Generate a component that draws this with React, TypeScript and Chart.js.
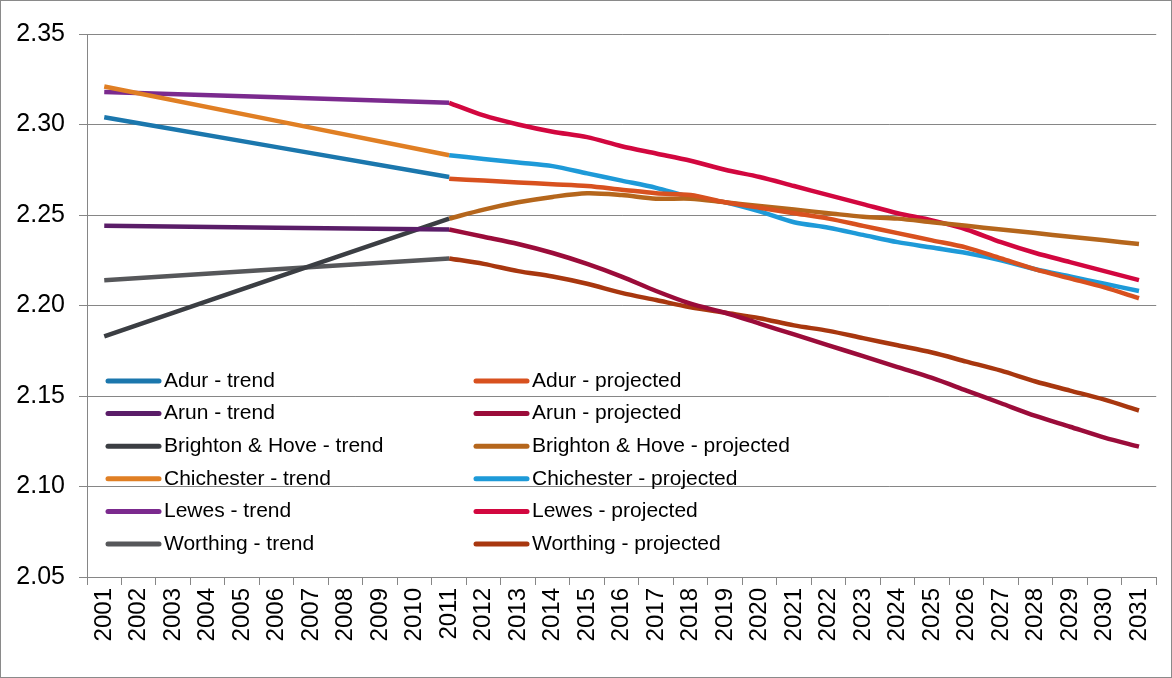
import React, { useRef, useEffect } from "react";
import Chart from "chart.js/auto";

const years = Array.from({ length: 31 }, (_, i) => String(2001 + i));

// trend series: known end points only (2001, 2011), straight line between
const adurTrend = [2.304, 2.271];
const arunTrend = [2.244, 2.242];
const brightonTrend = [2.183, 2.248];
const chichesterTrend = [2.321, 2.283];
const lewesTrend = [2.318, 2.312];
const worthingTrend = [2.214, 2.226];

// projected series 2011..2031
const adurProj = [2.270, 2.269, 2.268, 2.267, 2.266, 2.264, 2.262, 2.261, 2.257, 2.254, 2.251, 2.248, 2.244, 2.240, 2.236, 2.232, 2.226, 2.220, 2.215, 2.210, 2.204];
const arunProj = [2.242, 2.238, 2.234, 2.229, 2.223, 2.216, 2.208, 2.201, 2.196, 2.190, 2.184, 2.178, 2.172, 2.166, 2.160, 2.153, 2.146, 2.139, 2.133, 2.127, 2.122];
const brightonProj = [2.248, 2.253, 2.257, 2.260, 2.262, 2.261, 2.259, 2.259, 2.257, 2.255, 2.253, 2.251, 2.249, 2.248, 2.246, 2.244, 2.242, 2.240, 2.238, 2.236, 2.234];
const chichesterProj = [2.283, 2.281, 2.279, 2.277, 2.273, 2.269, 2.265, 2.260, 2.257, 2.252, 2.246, 2.243, 2.239, 2.235, 2.232, 2.229, 2.225, 2.220, 2.216, 2.212, 2.208];
const lewesProj = [2.312, 2.305, 2.300, 2.296, 2.293, 2.288, 2.284, 2.280, 2.275, 2.271, 2.266, 2.261, 2.256, 2.251, 2.247, 2.242, 2.235, 2.229, 2.224, 2.219, 2.214];
const worthingProj = [2.226, 2.223, 2.219, 2.216, 2.212, 2.207, 2.203, 2.199, 2.196, 2.193, 2.189, 2.186, 2.182, 2.178, 2.174, 2.169, 2.164, 2.158, 2.153, 2.148, 2.142];

const trend = (v: number[]) => {
  const out: (number | null)[] = Array(31).fill(null);
  out[0] = v[0];
  out[10] = v[1];
  return out;
};
const proj = (v: number[]) => [...Array(10).fill(null), ...v];

const FONT = "'Liberation Sans', Arial, sans-serif";

const legendPlugin = {
  id: "insideLegend",
  afterDraw(chart: any) {
    const ctx = chart.ctx;
    const ds = chart.data.datasets;
    ctx.save();
    ctx.font = `21px ${FONT}`;
    ctx.textBaseline = "middle";
    ds.forEach((d: any, i: number) => {
      const col = i % 2;
      const row = Math.floor(i / 2);
      const x = col === 0 ? 107 : 475;
      const y = 380 + row * 32.6;
      ctx.strokeStyle = d.borderColor;
      ctx.lineWidth = 5;
      ctx.lineCap = "round";
      ctx.beginPath();
      ctx.moveTo(x, y);
      ctx.lineTo(x + 51, y);
      ctx.stroke();
      ctx.fillStyle = "#000";
      ctx.fillText(d.label, x + 56, y);
    });
    ctx.restore();
  },
};

const App = () => {
  const chartRef = useRef<HTMLCanvasElement>(null);
  const chartInstance = useRef<Chart | null>(null);

  useEffect(() => {
    document.body.style.margin = "0";
    if (chartRef.current) {
      const line = (label: string, data: (number | null)[], color: string) => ({
        label,
        data,
        borderColor: color,
        backgroundColor: color,
        borderWidth: 4.5,
        pointRadius: 0,
        tension: 0.3,
        spanGaps: true,
      });
      chartInstance.current = new Chart(chartRef.current, {
        type: "line",
        data: {
          labels: years,
          datasets: [
            line("Adur - trend", trend(adurTrend), "#1b77ad"),
            line("Adur - projected", proj(adurProj), "#d8511f"),
            line("Arun - trend", trend(arunTrend), "#5a1d68"),
            line("Arun - projected", proj(arunProj), "#9b0c3a"),
            line("Brighton & Hove - trend", trend(brightonTrend), "#3b3e43"),
            line("Brighton & Hove - projected", proj(brightonProj), "#b5661c"),
            line("Chichester - trend", trend(chichesterTrend), "#e07f24"),
            line("Chichester - projected", proj(chichesterProj), "#1e9ad8"),
            line("Lewes - trend", trend(lewesTrend), "#7b2a8e"),
            line("Lewes - projected", proj(lewesProj), "#d2073f"),
            line("Worthing - trend", trend(worthingTrend), "#56575a"),
            line("Worthing - projected", proj(worthingProj), "#a8370f"),
          ],
        },
        options: {
          responsive: false,
          animation: false,
          layout: { padding: { top: 33, right: 14, left: 0, bottom: 0 } },
          plugins: { legend: { display: false }, tooltip: { enabled: false } },
          scales: {
            x: {
              offset: true,
              grid: { drawOnChartArea: false, offset: true, color: "#868686", tickLength: 8 },
              border: { color: "#868686" },
              ticks: {
                color: "#000",
                minRotation: 90,
                maxRotation: 90,
                autoSkip: false,
                font: { family: FONT, size: 24 },
              },
              afterFit: (s: any) => { s.height = 100; },
            },
            y: {
              min: 2.05,
              max: 2.35,
              ticks: {
                stepSize: 0.05,
                color: "#000",
                padding: 14,
                font: { family: FONT, size: 25 },
                callback: (v: any) => Number(v).toFixed(2),
              },
              grid: { color: "#868686", tickLength: 8 },
              border: { color: "#868686" },
              afterFit: (s: any) => { s.width = 86; },
            },
          },
        },
        plugins: [legendPlugin],
      });
    }
    return () => {
      chartInstance.current?.destroy();
    };
  }, []);

  return (
    <div style={{ width: 1170, height: 676, border: "1px solid #8a8a8a", background: "#fff" }}>
      <canvas ref={chartRef} width={1170} height={676} />
    </div>
  );
};

export default App;
